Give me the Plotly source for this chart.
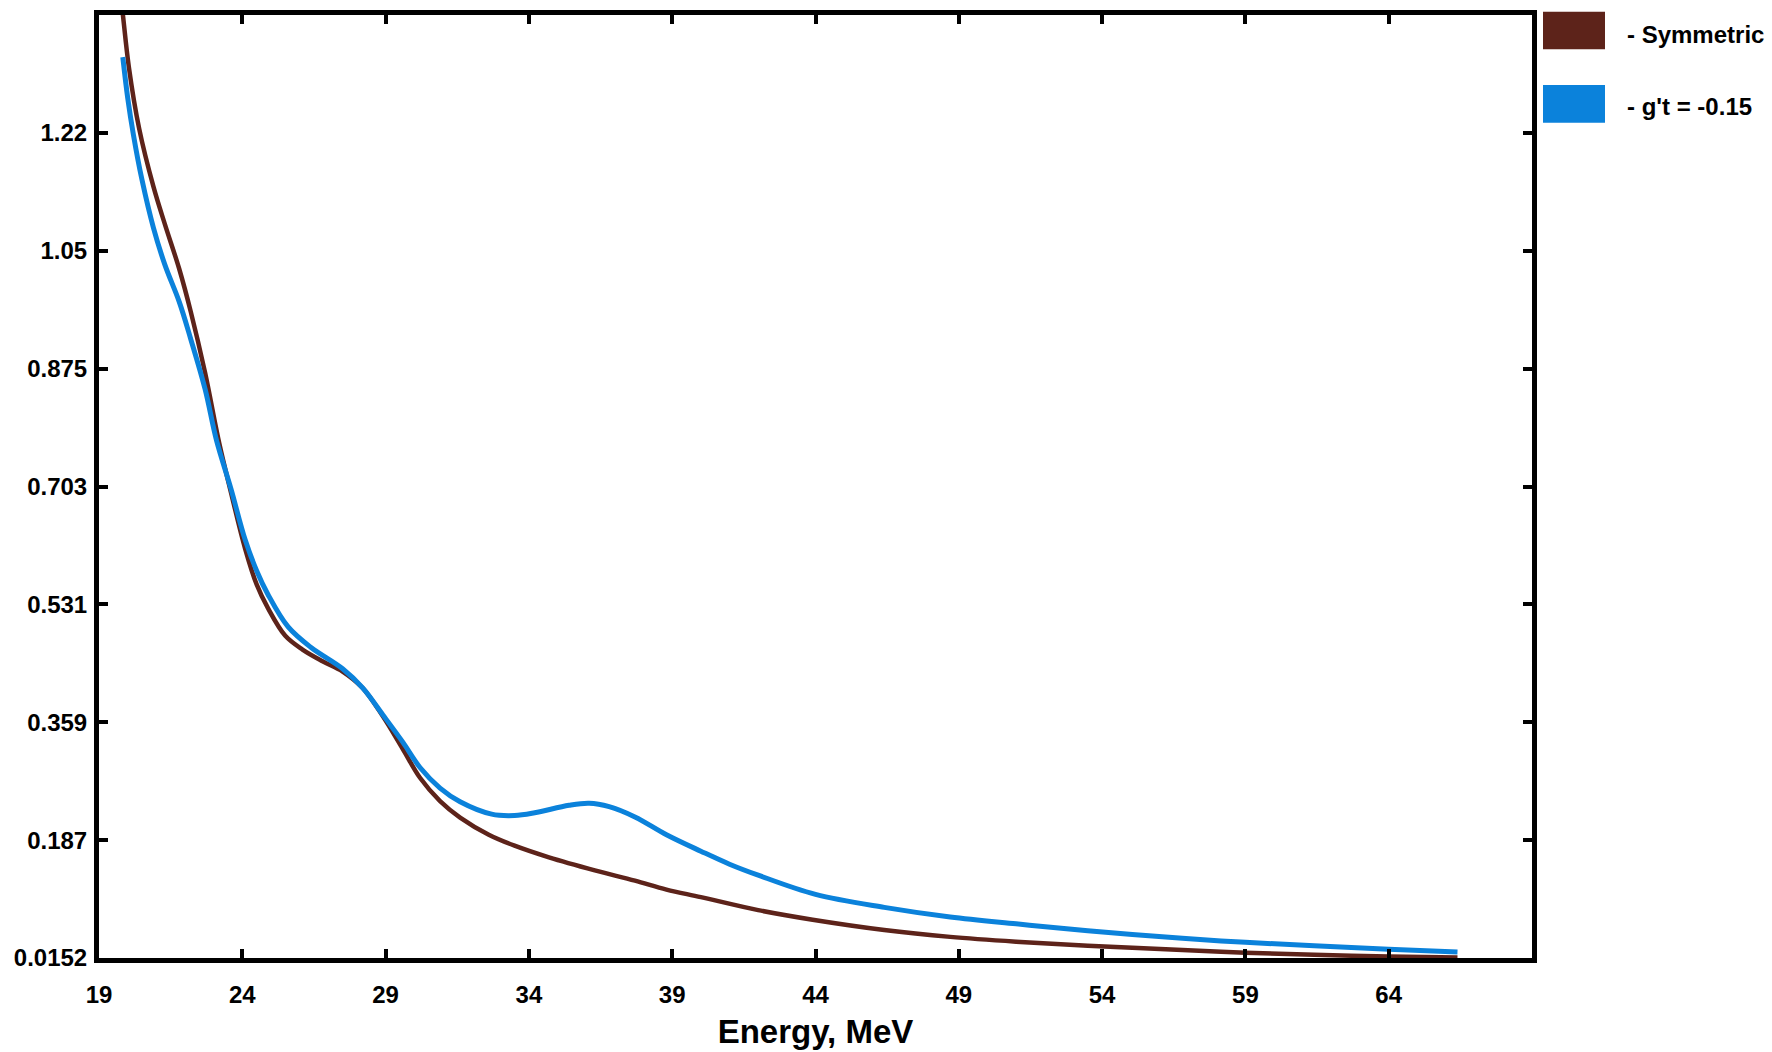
import plotly.graph_objects as go

# Energy grid (MeV) and cross-section values for the symmetric case
energy_sym = [19.75, 19.83, 20.04, 20.4, 20.9, 21.3, 21.8, 22.2, 22.7, 23.2, 23.6,
              24.1, 24.5, 24.9, 25.5, 26.1, 26.8, 27.5, 28.2, 28.9, 29.6, 30.2,
              30.9, 31.6, 32.6, 33.5, 34.7, 36.3, 37.7, 38.8, 40.0, 42.0,
              43.9, 46.4, 48.7, 51.0, 53.5, 56.8, 59.0, 61.4, 64.0, 66.4]
value_sym = [1.42, 1.392, 1.315, 1.225, 1.14, 1.085, 1.02, 0.958, 0.869, 0.765, 0.695,
             0.612, 0.56, 0.525, 0.485, 0.465, 0.448, 0.433, 0.409, 0.368, 0.320, 0.278,
             0.244, 0.220, 0.195, 0.179, 0.162, 0.143, 0.128, 0.115, 0.104, 0.085,
             0.071, 0.056, 0.046, 0.039, 0.033, 0.027, 0.023, 0.0198, 0.0175, 0.016]

# Energy grid (MeV) and values for g't = -0.15
energy_gt = [19.83, 20.0, 20.2, 20.5, 20.9, 21.3, 21.8, 22.2, 22.7, 23.1, 23.6, 24.1,
             24.5, 24.9, 25.6, 26.4, 27.5, 28.2, 28.9, 29.6, 30.2, 30.9, 31.6, 32.7,
             33.5, 34.2, 35.4, 36.1, 36.8, 37.7, 38.8, 40.0, 41.0, 42.0, 44.0, 46.4,
             48.7, 51.0, 53.5, 56.8, 59.0, 61.4, 64.0, 66.4]
value_gt = [1.329, 1.27, 1.216, 1.150, 1.080, 1.026, 0.972, 0.918, 0.845, 0.770, 0.700,
            0.625, 0.580, 0.545, 0.498, 0.468, 0.437, 0.409, 0.370, 0.330, 0.293, 0.263,
            0.243, 0.225, 0.223, 0.227, 0.238, 0.241, 0.236, 0.221, 0.195, 0.171, 0.152,
            0.136, 0.108, 0.089, 0.075, 0.065, 0.055, 0.044, 0.038, 0.033, 0.028,
            0.024]

# Axis ticks
x_ticks = [19, 24, 29, 34, 39, 44, 49, 54, 59, 64]
y_tick_text = ["0.0152", "0.187", "0.359", "0.531", "0.703", "0.875", "1.05", "1.22"]
Y_MIN, Y_STEP = 0.0152, 0.1719

series_names = ["- Symmetric", "- g't = -0.15"]
series_colors = ["#5D231A", "#0B82DB"]

FONT = "Liberation Sans, Arial, sans-serif"
W, H = 1772, 1052
ML, MR, MT, MB = 99, 240, 15, 94
PW, PH = W - ML - MR, H - MT - MB


def px_x(p):
    return (p - ML) / PW


def px_y(p):
    return 1 - (p - MT) / PH


fig = go.Figure()
fig.add_trace(go.Scatter(x=energy_sym, y=value_sym, mode="lines",
                         line=dict(color=series_colors[0], width=4.5, shape="spline"),
                         name=series_names[0], showlegend=False))
fig.add_trace(go.Scatter(x=energy_gt, y=value_gt, mode="lines",
                         line=dict(color=series_colors[1], width=5, shape="spline"),
                         name=series_names[1], showlegend=False))

y_tick_vals = [Y_MIN + i * Y_STEP for i in range(len(y_tick_text))]

axis_common = dict(showline=True, linecolor="black", linewidth=5, mirror="ticks",
                   ticks="inside", ticklen=9, tickwidth=4, tickcolor="black",
                   showgrid=False, zeroline=False, automargin=False,
                   tickfont=dict(family=FONT, size=24, color="black", weight="bold"))

fig.update_xaxes(range=[19, 69], tickvals=x_ticks, ticklabelstandoff=11,
                 title=dict(text="Energy, MeV", standoff=15,
                            font=dict(family=FONT, size=33, color="black", weight="bold")),
                 **axis_common)
fig.update_yaxes(range=[Y_MIN, Y_MIN + 8 * Y_STEP], tickvals=y_tick_vals,
                 ticktext=y_tick_text, ticklabelstandoff=2, **axis_common)

# Legend drawn as filled swatches with labels to the right of the plot
swatch_rows = [(11.7, 49.3), (85, 122.7)]
label_rows = [34, 106.7]
for (y0, y1), ly, name, col in zip(swatch_rows, label_rows, series_names, series_colors):
    fig.add_shape(type="rect", xref="paper", yref="paper",
                  x0=px_x(1543), x1=px_x(1605), y0=px_y(y1), y1=px_y(y0),
                  fillcolor=col, line=dict(width=0))
    fig.add_annotation(xref="paper", yref="paper", x=px_x(1625), y=px_y(ly),
                       xanchor="left", yanchor="middle", showarrow=False, text=name,
                       font=dict(family=FONT, size=24, color="black", weight="bold"))

fig.update_layout(width=W, height=H, margin=dict(l=ML, r=MR, t=MT, b=MB),
                  plot_bgcolor="white", paper_bgcolor="white", showlegend=False)

fig.write_html("out.html")
